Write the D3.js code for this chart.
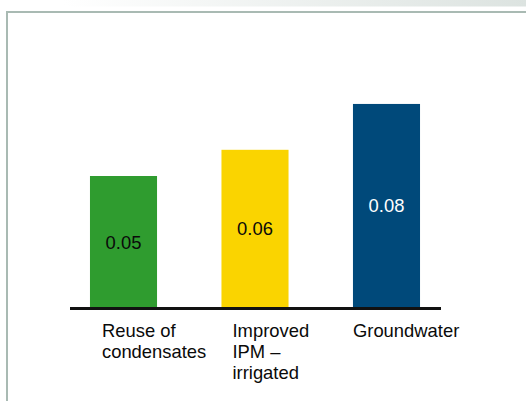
<!DOCTYPE html>
<html>
<head>
<meta charset="utf-8">
<script src="https://cdn.jsdelivr.net/npm/d3@7/dist/d3.min.js"></script>
<style>
  html, body { margin: 0; padding: 0; background: #fff; }
  svg { display: block; }
</style>
</head>
<body>
<svg id="chart" width="526" height="401"></svg>
<script>
// ---- data ----
const categories = ["Reuse of condensates", "Improved IPM – irrigated", "Groundwater"];
const categoryLines = [["Reuse of", "condensates"], ["Improved", "IPM –", "irrigated"], ["Groundwater"]];
const values = [0.05, 0.06, 0.0775];
const valueLabels = ["0.05", "0.06", "0.08"];

// ---- styles / layout ----
const barColors = ["#2f9c2f", "#fad400", "#00497a"];
const valueTextColors = ["#0a0a0a", "#0a0a0a", "#ffffff"];
const labelDx = [12, 11, 0];
const font = "'Liberation Sans', Arial, sans-serif";
const fontSize = 18.4;

const svg = d3.select("#chart");
const W = 526, H = 401;

// top decorative gradient band
const defs = svg.append("defs");
const grad = defs.append("linearGradient").attr("id", "topg")
  .attr("x1", "0").attr("x2", "1").attr("y1", "0").attr("y2", "0");
grad.append("stop").attr("offset", "0.12").attr("stop-color", "#ffffff");
grad.append("stop").attr("offset", "1").attr("stop-color", "#dce3e0");
svg.append("rect").attr("x", 0).attr("y", 0).attr("width", W).attr("height", 6.5)
  .attr("fill", "url(#topg)");

// frame
svg.append("line").attr("x1", 6).attr("x2", W).attr("y1", 12).attr("y2", 12)
  .attr("stroke", "#a9bab3").attr("stroke-width", 2);
svg.append("line").attr("x1", 7).attr("x2", 7).attr("y1", 11).attr("y2", H)
  .attr("stroke", "#a9bab3").attr("stroke-width", 2);

// scales
const x = d3.scaleBand().domain(categories).range([57.1, 452.9])
  .paddingInner(0.49).paddingOuter(0.25);
const y = d3.scaleLinear().domain([0, 0.1]).range([307, 45]);

const data = categories.map((c, i) => ({ c, v: values[i], lab: valueLabels[i], i }));

// bars
svg.append("g").selectAll("rect").data(data).join("rect")
  .attr("x", d => x(d.c))
  .attr("y", d => y(d.v))
  .attr("width", x.bandwidth())
  .attr("height", d => y(0) - y(d.v))
  .attr("fill", d => barColors[d.i]);

// value labels centred in bars
svg.append("g").selectAll("text").data(data).join("text")
  .attr("x", d => x(d.c) + x.bandwidth() / 2)
  .attr("y", d => (y(d.v) + y(0)) / 2 + 7)
  .attr("text-anchor", "middle")
  .attr("font-family", font)
  .attr("font-size", fontSize)
  .attr("fill", d => valueTextColors[d.i])
  .text(d => d.lab);

// baseline axis
const axisG = svg.append("g").attr("transform", `translate(0,${y(0)})`);
axisG.call(d3.axisBottom(x).tickSize(0).tickFormat(""));
axisG.select(".domain").remove();
axisG.append("line").attr("x1", 70).attr("x2", 441).attr("y1", 1.5).attr("y2", 1.5)
  .attr("stroke", "#111").attr("stroke-width", 3);

// category labels
const lab = svg.append("g").selectAll("text").data(data).join("text")
  .attr("font-family", font)
  .attr("font-size", fontSize)
  .attr("fill", "#0a0a0a")
  .attr("x", d => x(d.c) + labelDx[d.i])
  .attr("y", 337);
lab.selectAll("tspan").data(d => categoryLines[d.i].map(t => ({ t, x: x(d.c) + labelDx[d.i] })))
  .join("tspan")
  .attr("x", t => t.x)
  .attr("dy", (t, j) => j === 0 ? 0 : 21)
  .text(t => t.t);
</script>
</body>
</html>
